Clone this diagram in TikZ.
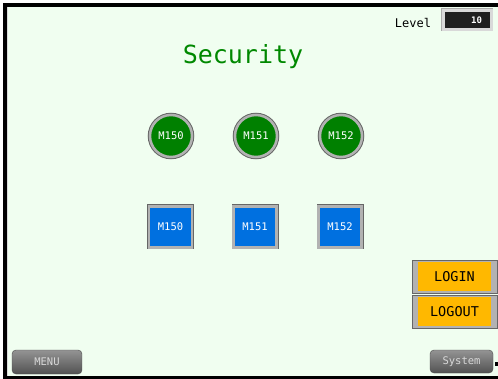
\documentclass[tikz,border=0pt]{standalone}
\usepackage{fontspec}
\setmonofont{DejaVu Sans Mono}
\definecolor{screen}{RGB}{240,254,240}
\definecolor{lampgreen}{RGB}{0,128,0}
\definecolor{keyblue}{RGB}{0,112,224}
\definecolor{loginyellow}{RGB}{255,184,0}
\definecolor{titlegreen}{RGB}{0,136,0}

\begin{document}
\begin{tikzpicture}[x=1pt, y=-1pt,
    lamp/.style ={circle, minimum size=42pt, fill=lampgreen, draw=gray!60, line width=2.5pt,
      preaction={draw=black!60, line width=4.5pt}, text=white,
      font=\ttfamily\fontsize{10.5}{10.5}\selectfont},
    key/.style ={rectangle, minimum width=43pt, minimum height=41pt, fill=keyblue, draw=gray!60,
      line width=2.5pt, preaction={draw=black!60, line width=4pt}, text=white,
      font=\ttfamily\fontsize{10.5}{10.5}\selectfont},
    panelkey/.style ={rectangle, minimum width=85pt, minimum height=33pt, fill=gray!60,
      draw=gray!80!black, line width=.6pt, font=\ttfamily\fontsize{13.5}{13.5}\selectfont,
      path picture={\fill[loginyellow] ([xshift=6pt,yshift=-2pt]path picture bounding box.north west)
        rectangle ([xshift=-6pt,yshift=2pt]path picture bounding box.south east);}},
    menukey/.style ={rectangle, rounded corners=4pt, top color=black!42, bottom color=black!68,
      draw=black!70, text=black!15, font=\ttfamily\fontsize{10.5}{10.5}\selectfont},
    levelbox/.style ={rectangle, minimum width=48pt, minimum height=19pt, fill=black!88,
      draw=gray!30, line width=3pt, preaction={draw=gray!65, line width=4pt},
      text width=30pt, align=right, inner sep=4pt, text=white,
      font=\ttfamily\bfseries\fontsize{9}{9}\selectfont}]
   \useasboundingbox (0,0) rectangle (498,379);
   % screen frame
   \fill[white] (0,0) rectangle (498,379);
   \fill[black] (3,3) rectangle (498,379);
   \fill[screen] (7,7) rectangle (498,376);
   \draw[gray!30] (7.5,7) -- (7.5,376);
   \fill[black] (495,362) rectangle (498,366);

   \node[font=\ttfamily\fontsize{12}{12}\selectfont, anchor=base] (level) at (413,28) {Level};
   \node[levelbox] (lvl) at (467,20) {10};
   \node[text=titlegreen, font=\ttfamily\fontsize{25}{25}\selectfont, anchor=base] (title) at (243,64) {Security};

   % lamps
   \node[lamp] (L0) at (171,136) {M150};
   \node[lamp] (L1) at (256,136) {M151};
   \node[lamp] (L2) at (341,136) {M152};
   % keys
   \node[key] (K0) at (170.5,227) {M150};
   \node[key] (K1) at (255,227) {M151};
   \node[key] (K2) at (340,227) {M152};

   \node[panelkey] (login) at (454.5,276.5) {LOGIN};
   \node[panelkey] (logout) at (454.5,311.5) {LOGOUT};

   \node[menukey, minimum width=70pt, minimum height=24pt] (menu) at (47,362) {MENU};
   \node[menukey, minimum width=63pt, minimum height=23pt] (system) at (461.5,361.5) {System};
 \end{tikzpicture}
\end{document}
